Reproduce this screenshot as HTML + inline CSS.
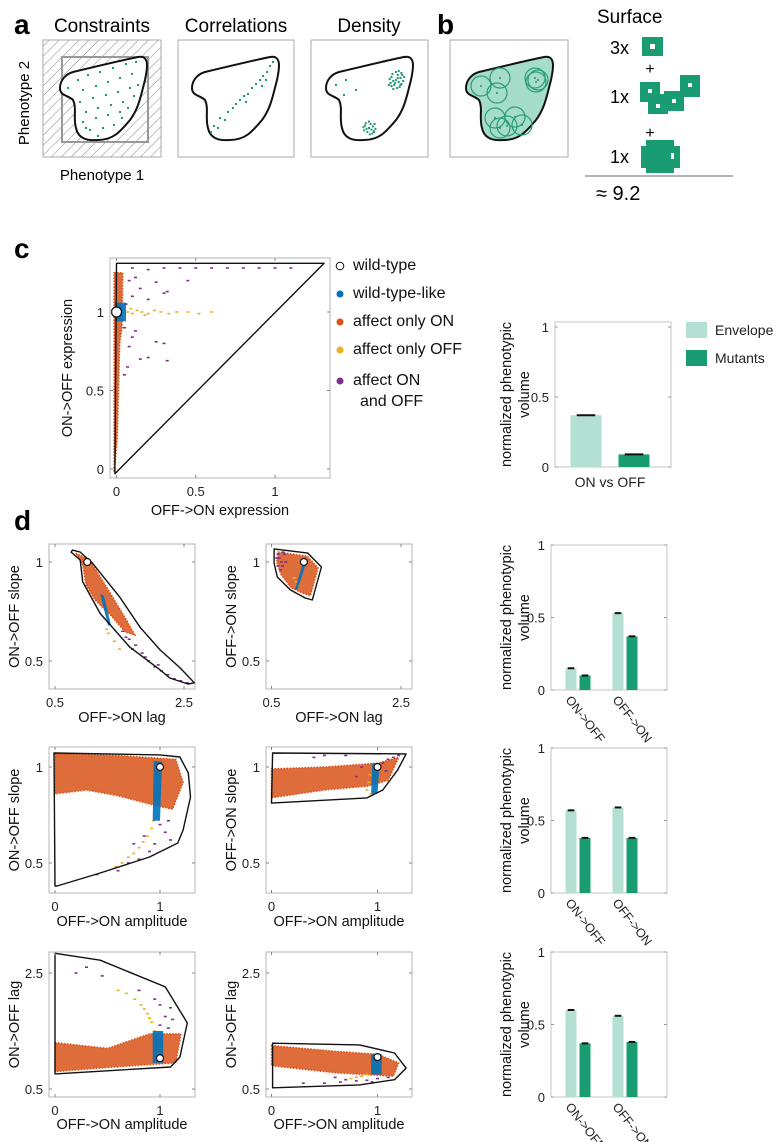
<!DOCTYPE html>
<html><head><meta charset="utf-8"><style>
html,body{margin:0;padding:0;background:#fff;}
svg{display:block;font-family:"Liberation Sans",sans-serif;}
</style></head><body>
<svg id="fig" width="780" height="1142" viewBox="0 0 780 1142" xmlns="http://www.w3.org/2000/svg">
<defs>
<pattern id="hatch" width="7" height="7" patternUnits="userSpaceOnUse" patternTransform="rotate(45)">
<line x1="0" y1="0" x2="0" y2="7" stroke="#666" stroke-width="0.8"/>
</pattern>
</defs>
<!-- Panel a -->
<g>
<text x="14" y="34" font-size="28" font-weight="bold">a</text>
<text x="102" y="32" font-size="19" text-anchor="middle">Constraints</text>
<text x="236" y="32" font-size="19" text-anchor="middle">Correlations</text>
<text x="369" y="32" font-size="19" text-anchor="middle">Density</text>
<rect x="43" y="40" width="118" height="117" fill="url(#hatch)" stroke="#aaa"/>
<rect x="62" y="57" width="86" height="85" fill="none" stroke="#999" stroke-width="2"/>
<rect x="178" y="40" width="116" height="117" fill="#fff" stroke="#aaa"/>
<rect x="311" y="40" width="117" height="117" fill="#fff" stroke="#aaa"/>
<text x="102" y="180" font-size="15" text-anchor="middle">Phenotype 1</text>
<text transform="translate(29,103) rotate(-90)" font-size="15" text-anchor="middle">Phenotype 2</text>
</g>
<!-- Panel b -->
<g>
<text x="437" y="34" font-size="28" font-weight="bold">b</text>
<rect x="450" y="40" width="118" height="117" fill="#fff" stroke="#aaa"/>
<text x="597" y="23" font-size="19">Surface</text>
<text x="610" y="54" font-size="18">3x</text>
<rect x="642" y="37" width="21" height="19" fill="#1a9c72"/>
<rect x="650" y="44" width="5" height="5" fill="#fff"/>
<text x="650" y="74" font-size="16" text-anchor="middle">+</text>
<text x="610" y="103" font-size="18">1x</text>
<g fill="#1a9c72">
<rect x="640" y="82" width="20" height="20"/><rect x="648" y="94" width="20" height="20"/><rect x="664" y="91" width="20" height="20"/><rect x="680" y="75" width="20" height="22"/>
</g>
<g fill="#fff"><rect x="648" y="89" width="4" height="4"/><rect x="656" y="104" width="4" height="4"/><rect x="672" y="99" width="4" height="4"/><rect x="688" y="83" width="4" height="4"/></g>
<text x="650" y="138" font-size="16" text-anchor="middle">+</text>
<text x="610" y="163" font-size="18">1x</text>
<g fill="#1a9c72"><rect x="641" y="146" width="39" height="22"/><rect x="646" y="140" width="28" height="33"/></g>
<rect x="671" y="153" width="3" height="6" fill="#fff"/>
<line x1="585" y1="176" x2="733" y2="176" stroke="#888" stroke-width="1.2"/>
<text x="596" y="200" font-size="20">≈ 9.2</text>
</g>
<g id="shapes"></g>
<text x="14" y="258" font-size="28" font-weight="bold">c</text>
<text x="14" y="530" font-size="28" font-weight="bold">d</text>
<g id="charts"></g>
</svg>
<script>
const NS='http://www.w3.org/2000/svg';
function mk(tag,attrs,parent){const e=document.createElementNS(NS,tag);for(const k in attrs)e.setAttribute(k,attrs[k]);(parent||document.getElementById('charts')).appendChild(e);return e;}

// ---------- Panel a/b illustrative shapes ----------
const shapePath="M205,72 C230,66 255,60 270,57 C281,55 280,66 277,80 C273,95 271,108 262,120 C252,132 245,140 230,140 C218,141 210,138 208,128 C205,118 209,108 205,100 C200,95 192,96 192,88 C192,80 198,74 205,72 Z";
const uniformDots=[[210,80],[220,75],[232,72],[245,68],[258,64],[268,62],[215,90],[228,86],[240,82],[252,78],[264,74],[212,102],[225,98],[238,95],[250,92],[262,88],[270,85],[218,112],[230,108],[243,105],[255,102],[266,96],[215,122],[228,118],[240,115],[252,112],[260,108],[222,130],[235,128],[246,125],[254,118],[230,136],[218,128],[200,88]];
const corrDots=[[211,132],[214,126],[218,128],[220,118],[225,120],[228,112],[233,108],[236,104],[240,100],[244,96],[248,94],[252,88],[256,84],[260,80],[263,76],[267,72],[270,66],[273,62],[262,86],[246,102],[266,80]];
const clusterOff=[[0,0],[3,2],[-3,1],[5,-2],[-5,-3],[2,-5],[-2,5],[6,4],[-6,3],[4,7],[-4,-6],[7,-5],[-7,-1],[1,8],[0,-8],[8,1],[-8,5],[3,-9],[-3,9],[9,-3],[5,5],[-5,6],[6,-7],[-1,3],[2,-2]];
const shapes=document.getElementById('shapes');
const shapeOffsets=[-132,0,134,274];
shapeOffsets.forEach((dx,i)=>{
  const g=mk('g',{transform:'translate('+dx+',0)'},shapes);
  
  
  mk('path',{d:shapePath,fill:i===3?'#a6dcca':'#fff',stroke:'#111','stroke-width':2},g);
  let dots=[];
  if(i===0)dots=uniformDots;
  if(i===1)dots=corrDots;
  if(i===2){clusterOff.forEach(o=>{dots.push([262+o[0]*0.9,80+o[1]]);});clusterOff.slice(0,16).forEach(o=>{dots.push([235+o[0]*0.8,128+o[1]*0.8]);});dots.push([202,85],[212,80],[222,90],[210,95],[240,132]);}
  dots.forEach(p=>mk('rect',{x:p[0]-1,y:p[1]-1,width:2,height:2,fill:'#1a9c72'},g));
  if(i===3){
    const circ=[[226,78],[223,93],[207,86],[261,78],[264,80],[262,82],[221,118],[241,117],[233,126],[226,128],[248,125]];
    circ.forEach(c=>{mk('circle',{cx:c[0],cy:c[1],r:10,fill:'none',stroke:'#2a9d76','stroke-width':1.2},g);mk('rect',{x:c[0]-0.8,y:c[1]-0.8,width:1.6,height:1.6,fill:'#1a7c5a'},g);});
  }
});

// ---------- Scatter data ----------
const c_env=[[0,1.31],[1.31,1.31],[-0.01,-0.03]];
const c_orange=[[-0.015,-0.02],[0.005,0.2],[0.015,0.6],[0.02,0.8],[0.035,0.9],[0.04,1.25],[-0.015,1.25]];
const c_blue=[[-0.01,0.94],[0.06,0.94],[0.06,1.06],[-0.01,1.06]];
const c_yellow=[[0.07,1.0],[0.1,0.99],[0.13,1.01],[0.16,1.0],[0.2,0.99],[0.24,1.01],[0.28,1.0],[0.33,0.99],[0.38,1.0],[0.45,1.0],[0.52,0.99],[0.6,1.0],[0.09,1.02],[0.18,0.98]];
const c_purple=[[0.1,1.28],[0.2,1.27],[0.3,1.28],[0.4,1.28],[0.5,1.28],[0.6,1.28],[0.7,1.28],[0.8,1.28],[0.9,1.28],[1.0,1.28],[1.1,1.28],[0.08,1.2],[0.15,1.15],[0.25,1.19],[0.32,1.13],[0.45,1.2],[0.1,1.1],[0.2,1.08],[0.05,0.9],[0.12,0.88],[0.3,0.8],[0.25,0.81],[0.08,0.78],[0.15,0.7],[0.2,0.71],[0.32,0.69],[0.07,0.65],[0.12,1.22],[0.3,1.12],[0.06,1.05],[0.1,0.84],[0.05,0.6]];
const c_wt=[0,1];

const d1_env=[[0.77,1.06],[0.89,1.05],[1.08,0.995],[1.51,0.82],[1.82,0.67],[2.13,0.556],[2.44,0.465],[2.66,0.39],[2.56,0.384],[2.28,0.414],[2.13,0.455],[1.66,0.57],[1.2,0.74],[0.93,0.9],[0.89,1.01],[0.75,1.05]];
const d1_orange=[[0.82,1.045],[1.04,1.01],[1.28,0.884],[1.59,0.717],[1.74,0.631],[1.59,0.646],[1.36,0.732],[1.12,0.808],[0.98,0.884],[0.93,0.985]];
const d1_blue=[[1.2,0.84],[1.26,0.83],[1.37,0.68],[1.32,0.68]];
const d1_yellow=[[1.3,0.66],[1.33,0.64],[1.42,0.6],[1.5,0.56]];
const d1_purple=[[1.55,0.65],[1.65,0.61],[1.75,0.58],[1.85,0.54],[1.95,0.5],[2.05,0.47],[2.15,0.45],[2.25,0.43],[2.35,0.41],[2.45,0.4],[2.55,0.39],[1.7,0.56],[1.9,0.52],[2.1,0.48],[1.6,0.62]];
const d1_wt=[1,1];

const d2_env=[[0.54,1.066],[1.06,1.045],[1.27,0.975],[1.13,0.808],[1.02,0.818],[0.79,0.859],[0.59,0.924],[0.54,0.995]];
const d2_orange=[[0.6,1.05],[1.05,1.03],[1.22,0.97],[1.1,0.83],[1.0,0.84],[0.8,0.87],[0.64,0.94],[0.58,1.0]];
const d2_blue=[[0.98,0.99],[1.03,0.99],[0.9,0.86],[0.86,0.86]];
const d2_yellow=[[0.88,0.9],[0.9,0.88],[0.85,0.92]];
const d2_purple=[[0.6,1.04],[0.62,1.02],[0.65,1.0],[0.67,0.98],[0.6,0.98],[0.7,1.04],[0.64,0.96],[0.58,1.02],[0.72,1.0],[0.68,1.05]];
const d2_wt=[1,1];

const d3_env=[[-0.01,1.073],[1.0,1.063],[1.19,1.052],[1.27,0.969],[1.29,0.844],[1.22,0.672],[1.17,0.604],[0.9,0.531],[0.43,0.448],[0.02,0.38],[0,0.38]];
const d3_orange=[[0,1.07],[0.6,1.06],[1.15,1.04],[1.22,0.92],[1.12,0.78],[0.95,0.8],[0.6,0.85],[0.3,0.88],[0,0.86]];
const d3_blue=[[0.94,1.03],[1.02,1.03],[1.0,0.72],[0.93,0.72]];
const d3_yellow=[[0.94,0.72],[0.92,0.68],[0.88,0.64],[0.84,0.61],[0.8,0.58],[0.75,0.55],[0.7,0.53],[0.64,0.5],[0.58,0.48]];
const d3_purple=[[1.0,0.7],[1.05,0.66],[1.1,0.62],[0.95,0.6],[0.9,0.56],[0.8,0.52],[0.7,0.5],[1.08,0.72],[0.85,0.64],[0.75,0.6],[0.6,0.46],[0.4,0.44]];
const d3_wt=[1,1];

const d4_env=[[0.01,1.073],[1.27,1.068],[1.19,0.984],[1.05,0.88],[0.9,0.839],[0,0.812]];
const d4_orange=[[0,0.99],[0.5,1.0],[1.0,1.02],[1.2,1.05],[1.1,0.93],[0.9,0.9],[0.5,0.88],[0,0.84]];
const d4_blue=[[0.95,1.02],[1.02,1.02],[1.0,0.86],[0.94,0.86]];
const d4_yellow=[[0.93,0.96],[0.92,0.92],[0.9,0.88],[0.94,0.86]];
const d4_purple=[[1.05,1.02],[1.1,1.04],[1.15,1.05],[1.2,1.06],[1.08,0.98],[0.85,1.0],[0.8,0.95],[0.7,1.06],[0.5,1.06],[0.4,1.05]];
const d4_wt=[1,1];

const d5_env=[[0,2.84],[0.43,2.72],[1.05,2.26],[1.26,1.64],[1.19,1.05],[1.1,0.88],[0,0.76]];
const d5_orange=[[0,1.3],[0.5,1.2],[0.9,1.45],[1.2,1.45],[1.15,0.95],[0.5,0.87],[0,0.8]];
const d5_blue=[[0.93,1.5],[1.03,1.5],[1.03,0.95],[0.93,0.95]];
const d5_yellow=[[0.95,1.5],[0.92,1.65],[0.88,1.8],[0.82,1.95],[0.76,2.05],[0.68,2.15],[0.6,2.2],[0.9,1.72],[0.85,1.88]];
const d5_purple=[[1.0,1.6],[1.05,1.75],[1.1,1.9],[1.0,1.95],[0.95,2.05],[1.08,1.55],[0.3,2.6],[0.2,2.5],[0.45,2.45],[0.8,2.2],[1.12,1.7]];
const d5_wt=[1,1.03];

const d6_env=[[0.01,1.29],[0.83,1.26],[1.16,1.12],[1.27,0.86],[1.16,0.66],[0.83,0.57],[0.01,0.52]];
const d6_orange=[[0,1.25],[0.6,1.15],[1.0,1.1],[1.2,0.95],[1.15,0.72],[0.6,0.78],[0,0.9]];
const d6_blue=[[0.94,1.1],[1.04,1.1],[1.04,0.75],[0.94,0.75]];
const d6_yellow=[[0.85,0.72],[0.8,0.7],[0.75,0.68],[0.9,0.75]];
const d6_purple=[[0.6,0.7],[0.7,0.66],[0.8,0.64],[0.9,0.65],[1.0,0.68],[1.1,0.7],[0.65,0.62],[0.95,0.62],[0.3,0.6],[0.5,0.6]];
const d6_wt=[1,1.05];

// ---------- Bar data ----------
const bar_c_categories=['ON vs OFF'];
const bar_c_envelope=[0.37];
const bar_c_mutants=[0.09];
const bar_d_categories=['ON->OFF','OFF->ON'];
const bar_d1_envelope=[0.15,0.53];
const bar_d1_mutants=[0.10,0.37];
const bar_d2_envelope=[0.57,0.59];
const bar_d2_mutants=[0.38,0.38];
const bar_d3_envelope=[0.60,0.56];
const bar_d3_mutants=[0.37,0.38];
const bar_yticks=[0,0.5,1];
const bar_ytick_labels=['0','0.5','1'];

const COL={orange:'#d95319',blue:'#0072bd',yellow:'#edb120',purple:'#7e2f8e',env:'#b3e0d3',mut:'#1a9c72'};

function lin(d0,d1,p0,p1){return v=>p0+(v-d0)*(p1-p0)/(d1-d0);}

function scatter(cfg){
  const g=mk('g',{});
  
  
  const [x0,y0,x1,y1]=cfg.box;
  const sx=lin(cfg.xm[0],cfg.xm[1],cfg.xm[2],cfg.xm[3]);
  const sy=lin(cfg.ym[0],cfg.ym[1],cfg.ym[2],cfg.ym[3]);
  const pts=a=>a.map(p=>sx(p[0]).toFixed(1)+','+sy(p[1]).toFixed(1)).join(' ');
  const clip='clip-'+cfg.name;
  const cp=mk('clipPath',{id:clip},g);mk('rect',{x:x0,y:y0,width:x1-x0,height:y1-y0},cp);
  const ax=mk('rect',{x:x0,y:y0,width:x1-x0,height:y1-y0,fill:'#fff',stroke:'#b5b5b5','stroke-width':1},g);
  
  
  const inner=mk('g',{'clip-path':'url(#'+clip+')'},g);
  const o=mk('polygon',{points:pts(cfg.orange),fill:COL.orange,'fill-opacity':0.85,stroke:COL.orange,'stroke-width':1.5,'stroke-dasharray':'1.5 1.5'},inner);
  
  
  cfg.yellow.forEach(p=>mk('rect',{x:sx(p[0])-1.5,y:sy(p[1])-0.8,width:3,height:1.6,fill:COL.yellow},inner));
  cfg.purple.forEach(p=>mk('rect',{x:sx(p[0])-1.5,y:sy(p[1])-0.8,width:3,height:1.6,fill:COL.purple},inner));
  const b=mk('polygon',{points:pts(cfg.blue),fill:COL.blue,'fill-opacity':0.9},inner);
  
  
  const e=mk('polygon',{points:pts(cfg.env),fill:'none',stroke:'#111','stroke-width':1.4,'stroke-linejoin':'round'},inner);
  
  
  const w=mk('circle',{cx:sx(cfg.wt[0]),cy:sy(cfg.wt[1]),r:cfg.wtr||3.5,fill:'#fff',stroke:'#111','stroke-width':1.2},g);
  
  
  cfg.xticks.forEach((t,i)=>{const x=sx(t);
    mk('line',{x1:x,y1:y1,x2:x,y2:y1-3,stroke:'#888'},g);mk('line',{x1:x,y1:y0,x2:x,y2:y0+3,stroke:'#888'},g);
    const tl=mk('text',{x:x,y:y1+18,'font-size':13,'text-anchor':'middle',fill:'#222'},g);tl.textContent=cfg.xlabels[i];
    
    });
  cfg.yticks.forEach((t,i)=>{const y=sy(t);
    mk('line',{x1:x0,y1:y,x2:x0+3,y2:y,stroke:'#888'},g);mk('line',{x1:x1,y1:y,x2:x1-3,y2:y,stroke:'#888'},g);
    const tl=mk('text',{x:x0-6,y:y+5,'font-size':13,'text-anchor':'end',fill:'#222'},g);tl.textContent=cfg.ylabels[i];
    
    });
  const xt=mk('text',{x:(x0+x1)/2,y:cfg.xty,'font-size':14.5,'text-anchor':'middle',fill:'#111'},g);xt.textContent=cfg.xlabel;
  
  
  const yt=mk('text',{transform:'translate('+cfg.ytx+','+((y0+y1)/2)+') rotate(-90)','font-size':14.5,'text-anchor':'middle',fill:'#111'},g);yt.textContent=cfg.ylabel;
  
  
}

function bars(cfg){
  const g=mk('g',{});
  
  
  const [x0,y0,x1,y1]=cfg.box;
  const sy=lin(0,1,y1,cfg.y1p);
  const gx=i=>cfg.g0+cfg.gstep*i;
  const ax=mk('rect',{x:x0,y:y0,width:x1-x0,height:y1-y0,fill:'#fff',stroke:'#c5c5c5'},g);
  
  
  bar_yticks.forEach((t,i)=>{const y=sy(t);
    mk('line',{x1:x0,y1:y,x2:x0+3,y2:y,stroke:'#999'},g);mk('line',{x1:x1,y1:y,x2:x1-3,y2:y,stroke:'#999'},g);
    const tl=mk('text',{x:x0-6,y:y+5,'font-size':13,'text-anchor':'end',fill:'#222'},g);tl.textContent=bar_ytick_labels[i];
    
    });
  cfg.cats.forEach((c,i)=>{
    const cx=gx(i);
    [[cfg.env,COL.env,-1,'envelope'],[cfg.mut,COL.mut,1,'mutants']].forEach(s=>{
      const v=s[0][i];const bx=cx+(s[2]<0?-cfg.gap/2-cfg.bw:cfg.gap/2);
      const r=mk('rect',{x:bx,y:sy(v),width:cfg.bw,height:y1-sy(v),fill:s[1]},g);
      
      
      mk('line',{x1:bx+cfg.bw*0.2,x2:bx+cfg.bw*0.8,y1:sy(v),y2:sy(v),stroke:'#111','stroke-width':2},g);
    });
    let t;
    if(cfg.rot){t=mk('text',{transform:'translate('+(cx-13)+','+(y1+10)+') rotate(52)','font-size':12.5,fill:'#222'},g);}
    else{t=mk('text',{x:cx,y:y1+20,'font-size':14,'text-anchor':'middle',fill:'#222'},g);}
    t.textContent=c;
    
    
  });
  const cy=(y0+y1)/2;
  const t1=mk('text',{transform:'translate(511,'+cy+') rotate(-90)','font-size':14.5,'text-anchor':'middle',fill:'#111'},g);t1.textContent='normalized phenotypic';
  
  
  const t2=mk('text',{transform:'translate(529,'+cy+') rotate(-90)','font-size':14.5,'text-anchor':'middle',fill:'#111'},g);t2.textContent='volume';
  
  
}

// Panel c scatter
scatter({name:'scatter-c',box:[110,258,330,478],xm:[0,1,116.5,275],ym:[0,1,469,312],env:c_env,orange:c_orange,blue:c_blue,yellow:c_yellow,purple:c_purple,wt:c_wt,wtr:5,
 xticks:[0,0.5,1],xlabels:['0','0.5','1'],yticks:[0,0.5,1],ylabels:['0','0.5','1'],xlabel:'OFF->ON expression',ylabel:'ON->OFF expression',xty:515,ytx:72});
// Legend
const legendLabels=['wild-type','wild-type-like','affect only ON','affect only OFF','affect ON'];
const legendColors=['#fff',COL.blue,COL.orange,COL.yellow,COL.purple];
const legendY=[265,293,321,349,380];
legendLabels.forEach((l,i)=>{
  const g=mk('g',{});
  
  
  mk('circle',{cx:340,cy:legendY[i]+1,r:i===0?3.8:3.5,fill:legendColors[i],stroke:i===0?'#111':'none','stroke-width':1},g);
  const t=mk('text',{x:353,y:legendY[i]+5,'font-size':16,fill:'#111'},g);t.textContent=l;
});
const lt=mk('text',{x:360,y:406,'font-size':16,fill:'#111'});lt.textContent='and OFF';



// Panel c bars
bars({name:'bar-chart-c',box:[555,322,671,467],y1p:327,cats:bar_c_categories,env:bar_c_envelope,mut:bar_c_mutants,g0:610,gstep:0,bw:31,gap:17,rot:false});
const lg=mk('g',{});


mk('rect',{x:686,y:322,width:21,height:16,fill:COL.env},lg);
mk('rect',{x:686,y:350,width:21,height:16,fill:COL.mut},lg);
const le=mk('text',{x:715,y:335,'font-size':14,fill:'#222'},lg);le.textContent='Envelope';
const lm=mk('text',{x:715,y:363,'font-size':14,fill:'#222'},lg);lm.textContent='Mutants';

// Panel d scatters
const rowY=[[544,689,562,1,661,0.5],[747,893,767,1,863,0.5],[952,1097,973,2.5,1089,0.5]];
const lagX1=[0.5,2.5,55,184], lagX2=[0.5,2.5,271.5,401];
const ampX1=[0,1,55,160], ampX2=[0,1,271.5,377.5];
function ym(r){return [rowY[r][5],rowY[r][3],rowY[r][4],rowY[r][2]];}
scatter({name:'scatter-d1',box:[49,544,195,689],xm:lagX1,ym:ym(0),env:d1_env,orange:d1_orange,blue:d1_blue,yellow:d1_yellow,purple:d1_purple,wt:d1_wt,
 xticks:[0.5,2.5],xlabels:['0.5','2.5'],yticks:[0.5,1],ylabels:['0.5','1'],xlabel:'OFF->ON lag',ylabel:'ON->OFF slope',xty:722,ytx:19});
scatter({name:'scatter-d2',box:[266,544,412,689],xm:lagX2,ym:ym(0),env:d2_env,orange:d2_orange,blue:d2_blue,yellow:d2_yellow,purple:d2_purple,wt:d2_wt,
 xticks:[0.5,2.5],xlabels:['0.5','2.5'],yticks:[0.5,1],ylabels:['0.5','1'],xlabel:'OFF->ON lag',ylabel:'OFF->ON slope',xty:722,ytx:236});
scatter({name:'scatter-d3',box:[49,747,195,893],xm:ampX1,ym:ym(1),env:d3_env,orange:d3_orange,blue:d3_blue,yellow:d3_yellow,purple:d3_purple,wt:d3_wt,
 xticks:[0,1],xlabels:['0','1'],yticks:[0.5,1],ylabels:['0.5','1'],xlabel:'OFF->ON amplitude',ylabel:'ON->OFF slope',xty:926,ytx:19});
scatter({name:'scatter-d4',box:[266,747,412,893],xm:ampX2,ym:ym(1),env:d4_env,orange:d4_orange,blue:d4_blue,yellow:d4_yellow,purple:d4_purple,wt:d4_wt,
 xticks:[0,1],xlabels:['0','1'],yticks:[0.5,1],ylabels:['0.5','1'],xlabel:'OFF->ON amplitude',ylabel:'OFF->ON slope',xty:926,ytx:236});
scatter({name:'scatter-d5',box:[49,952,195,1097],xm:ampX1,ym:ym(2),env:d5_env,orange:d5_orange,blue:d5_blue,yellow:d5_yellow,purple:d5_purple,wt:d5_wt,
 xticks:[0,1],xlabels:['0','1'],yticks:[0.5,2.5],ylabels:['0.5','2.5'],xlabel:'OFF->ON amplitude',ylabel:'ON->OFF lag',xty:1129,ytx:19});
scatter({name:'scatter-d6',box:[266,952,412,1097],xm:ampX2,ym:ym(2),env:d6_env,orange:d6_orange,blue:d6_blue,yellow:d6_yellow,purple:d6_purple,wt:d6_wt,
 xticks:[0,1],xlabels:['0','1'],yticks:[0.5,2.5],ylabels:['0.5','2.5'],xlabel:'OFF->ON amplitude',ylabel:'ON->OFF lag',xty:1129,ytx:236});

// Panel d bars
bars({name:'bar-chart-d1',box:[551,545,667,690],y1p:545,cats:bar_d_categories,env:bar_d1_envelope,mut:bar_d1_mutants,g0:578,gstep:47,bw:11,gap:3,rot:true});
bars({name:'bar-chart-d2',box:[551,748,667,893],y1p:748,cats:bar_d_categories,env:bar_d2_envelope,mut:bar_d2_mutants,g0:578,gstep:47,bw:11,gap:3,rot:true});
bars({name:'bar-chart-d3',box:[551,952,667,1097],y1p:952,cats:bar_d_categories,env:bar_d3_envelope,mut:bar_d3_mutants,g0:578,gstep:47,bw:11,gap:3,rot:true});
</script>
</body></html>
